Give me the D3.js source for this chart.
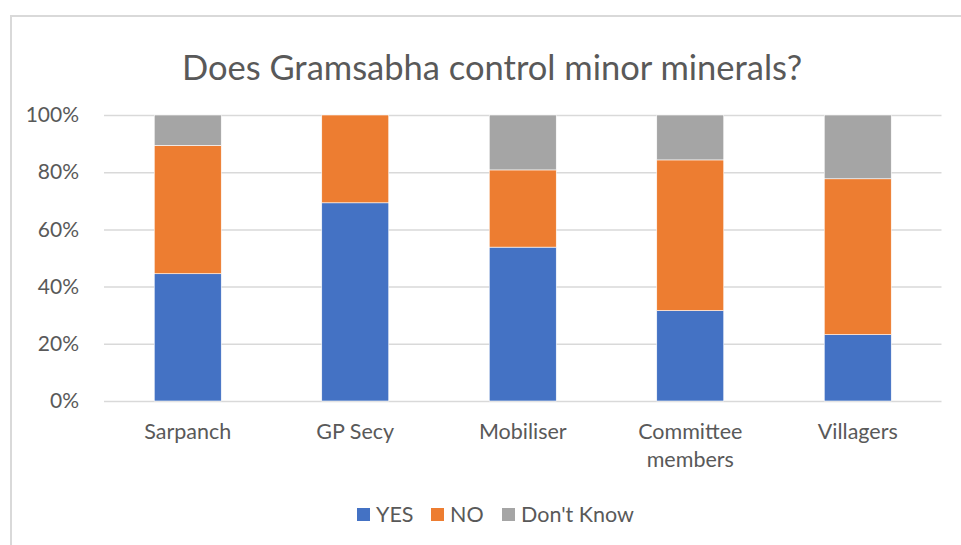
<!DOCTYPE html>
<html>
<head>
<meta charset="utf-8">
<script src="https://cdn.jsdelivr.net/npm/d3@7"></script>
<style>
  body { margin: 0; background: #fff; }
  svg { display: block; font-family: Lato, "Open Sans", sans-serif; }
</style>
</head>
<body>
<svg id="chart" width="961" height="545"></svg>
<script>
// chart data
const categories = ['Sarpanch', 'GP Secy', 'Mobiliser', 'Committee members', 'Villagers'];
const yesVals = [44.5, 69.3, 53.8, 31.6, 23.2];
const noVals = [44.9, 30.7, 27.0, 52.7, 54.5];
const dkVals = [10.6, 0, 19.2, 15.7, 22.3];
const seriesNames = ['YES', 'NO', "Don't Know"];
const yTicks = [0, 20, 40, 60, 80, 100];

const colors = ['#4472C4', '#ED7D31', '#A5A5A5'];
const font = 'Lato, "Open Sans", sans-serif';
const labelSize = 21.5;

const svg = d3.select('#chart');

// outer chart frame (runs off the right/bottom edge like the screenshot)
svg.append('rect')
  .attr('x', 11).attr('y', 16)
  .attr('width', 980).attr('height', 560)
  .attr('fill', '#fff')
  .attr('stroke', '#d9d9d9')
  .attr('stroke-width', 2);

const plotL = 104, plotR = 941.5, plotT = 115, plotB = 401;

const table = categories.map((c, i) => ({
  cat: c, 'YES': yesVals[i], 'NO': noVals[i], "Don't Know": dkVals[i]
}));
const stacked = d3.stack().keys(seriesNames)(table);

const x = d3.scaleBand()
  .domain(categories)
  .range([plotL, plotR])
  .paddingInner(0.6)
  .paddingOuter(0.3);

const y = d3.scaleLinear()
  .domain([0, 100])
  .range([plotB, plotT]);

// gridlines
svg.append('g')
  .attr('transform', `translate(${plotL},0)`)
  .call(d3.axisLeft(y).tickValues(yTicks).tickSize(-(plotR - plotL)).tickFormat(''))
  .call(g => g.select('.domain').remove())
  .call(g => g.selectAll('line').attr('stroke', '#d9d9d9').attr('stroke-width', 1.5));

// y labels
svg.append('g')
  .attr('transform', `translate(${plotL - 22},0)`)
  .call(d3.axisLeft(y).tickValues(yTicks).tickSize(0).tickFormat(d => d + '%'))
  .call(g => g.select('.domain').remove())
  .call(g => g.selectAll('text')
    .attr('fill', '#595959')
    .attr('font-size', 21)
    .attr('font-family', font));

// bars
svg.append('g')
  .selectAll('g')
  .data(stacked)
  .join('g')
  .attr('fill', (d, i) => colors[i])
  .selectAll('rect')
  .data(d => d)
  .join('rect')
  .attr('x', d => x(d.data.cat))
  .attr('y', d => y(d[1]))
  .attr('height', d => y(d[0]) - y(d[1]))
  .attr('width', x.bandwidth())
  .attr('stroke', '#fff')
  .attr('stroke-width', 0.6);

// x labels (wrap long ones)
const xAxis = svg.append('g')
  .attr('transform', `translate(0,${plotB})`)
  .call(d3.axisBottom(x).tickSize(0).tickFormat(''))
  .call(g => g.select('.domain').remove());

xAxis.selectAll('.tick').each(function(d) {
  const words = d === 'Committee members' ? ['Committee', 'members'] : [d];
  const t = d3.select(this).append('text')
    .attr('fill', '#595959')
    .attr('font-size', labelSize)
    .attr('font-family', font)
    .attr('text-anchor', 'middle');
  words.forEach((w, i) => {
    t.append('tspan').attr('x', 0).attr('y', 38 + i * 28).text(w);
  });
});

// title
svg.append('text')
  .attr('x', 492)
  .attr('y', 80)
  .attr('text-anchor', 'middle')
  .attr('fill', '#595959')
  .attr('font-size', 34.5)
  .text('Does Gramsabha control minor minerals?');

// legend
const legendX = [357, 431, 502];
const legend = svg.append('g');
seriesNames.forEach((s, i) => {
  legend.append('rect')
    .attr('x', legendX[i]).attr('y', 508)
    .attr('width', 13).attr('height', 13)
    .attr('fill', colors[i]);
  legend.append('text')
    .attr('x', legendX[i] + 19).attr('y', 522)
    .attr('fill', '#595959')
    .attr('font-size', labelSize)
    .text(s);
});
</script>
</body>
</html>
